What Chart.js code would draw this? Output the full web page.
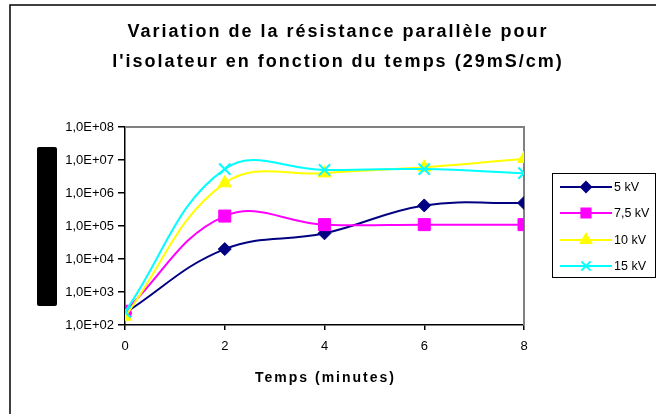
<!DOCTYPE html>
<html>
<head>
<meta charset="utf-8">
<script src="https://cdn.jsdelivr.net/npm/chart.js@4/dist/chart.umd.min.js"></script>
<style>
  html, body { margin: 0; padding: 0; background: #fff; }
  #wrap { width: 656px; height: 414px; }
</style>
</head>
<body>
<div id="wrap"><canvas id="chart" width="656" height="414"></canvas></div>
<script>
// times (minutes)
const times = [0, 2, 4, 6, 8];

// parallel resistance per test voltage
const r5kV = [230, 20000, 60000, 420000, 500000];
const r7_5kV = [260, 200000, 110000, 110000, 110000];
const r10kV = [180, 2000000, 4000000, 6000000, 11000000];
const r15kV = [250, 5300000, 5000000, 5300000, 4000000];

const seriesNames = ['5 kV', '7,5 kV', '10 kV', '15 kV'];
const yTickValues = [1e2, 1e3, 1e4, 1e5, 1e6, 1e7, 1e8];
const yTickLabels = ['1,0E+02', '1,0E+03', '1,0E+04', '1,0E+05', '1,0E+06', '1,0E+07', '1,0E+08'];
const xTickValues = [0, 2, 4, 6, 8];

const titleLines = ['Variation de la résistance parallèle pour', "l'isolateur en fonction du temps (29mS/cm)"];
const xTitle = 'Temps (minutes)';

const FONT = '"Liberation Sans", Arial, sans-serif';

const styles = [
  { color: '#000080', point: 'rectRot', radius: 6.5, legendRadius: 5 },
  { color: '#ff00ff', point: 'rect', radius: 8.5, legendRadius: 6.5 },
  { color: '#ffff00', point: 'triangle', radius: 7.5, legendRadius: 6 },
  { color: '#00ffff', point: 'crossRot', radius: 8, legendRadius: 6.5 }
];

const toPoints = vals => times.map((t, i) => ({ x: t, y: vals[i] }));
const allSeries = [r5kV, r7_5kV, r10kV, r15kV];

const datasets = allSeries.map((vals, i) => ({
  label: seriesNames[i],
  data: toPoints(vals),
  borderColor: styles[i].color,
  backgroundColor: styles[i].color,
  pointBackgroundColor: styles[i].color,
  pointBorderColor: styles[i].color,
  pointStyle: styles[i].point,
  pointRadius: styles[i].radius,
  pointBorderWidth: styles[i].point === 'crossRot' ? 2 : 1,
  borderWidth: 2,
  tension: 0.4,
  order: allSeries.length - i
}));

// frame, titles, left block, plot border and legend
const decor = {
  id: 'decor',
  beforeDatasetsDraw(chart) {
    const { ctx, chartArea: a } = chart;
    ctx.save();
    ctx.strokeStyle = '#808080';
    ctx.lineWidth = 2;
    ctx.beginPath();
    ctx.moveTo(a.left, a.top);
    ctx.lineTo(a.right, a.top);
    ctx.lineTo(a.right, a.bottom);
    ctx.stroke();
    ctx.restore();
  },
  afterDraw(chart) {
    const { ctx, chartArea: a } = chart;
    ctx.save();
    // outer frame
    ctx.strokeStyle = '#000';
    ctx.lineWidth = 1.5;
    ctx.strokeRect(10, 5, 700, 500);

    // title
    ctx.fillStyle = '#000';
    ctx.font = 'bold 18px ' + FONT;
    ctx.letterSpacing = '2px';
    ctx.textAlign = 'center';
    ctx.textBaseline = 'middle';
    ctx.fillText(titleLines[0], 338, 32);
    ctx.fillText(titleLines[1], 338, 62);

    // x axis title
    ctx.font = 'bold 14px ' + FONT;
    ctx.fillText(xTitle, (a.left + a.right) / 2 + 1, 378);
    ctx.letterSpacing = '0px';

    // black block on the left
    ctx.beginPath();
    ctx.roundRect(37, 147, 20, 159, 2);
    ctx.fill();

    // legend
    ctx.strokeStyle = '#000';
    ctx.lineWidth = 1;
    ctx.strokeRect(552.5, 173.5, 103, 104);
    const ys = [187, 213, 240, 266];
    ctx.font = '12.5px ' + FONT;
    ctx.textAlign = 'left';
    seriesNames.forEach((name, i) => {
      const s = styles[i];
      const y = ys[i];
      ctx.strokeStyle = s.color;
      ctx.fillStyle = s.color;
      ctx.lineWidth = 2;
      ctx.beginPath();
      ctx.moveTo(560, y);
      ctx.lineTo(612, y);
      ctx.stroke();
      Chart.helpers.drawPoint(ctx, {
        pointStyle: s.point, radius: s.legendRadius, rotation: 0,
        borderWidth: s.point === 'crossRot' ? 2 : 1
      }, 586, y);
      ctx.fillStyle = '#000';
      ctx.fillText(name, 614, y + 1);
    });
    ctx.restore();
  }
};

new Chart(document.getElementById('chart'), {
  type: 'line',
  data: { datasets },
  options: {
    responsive: false,
    animation: false,
    layout: { padding: { left: 60, right: 132, top: 127, bottom: 29 } },
    plugins: { legend: { display: false }, title: { display: false }, tooltip: { enabled: false } },
    scales: {
      x: {
        type: 'linear',
        min: 0,
        max: 8,
        afterBuildTicks: s => { s.ticks = xTickValues.map(v => ({ value: v })); },
        afterFit: s => { s.height = 60; },
        grid: { drawOnChartArea: false, tickLength: 5, color: '#000', lineWidth: 1.5 },
        border: { color: '#000', width: 1.5 },
        ticks: { color: '#000', padding: 9, font: { family: FONT, size: 13 }, maxRotation: 0 }
      },
      y: {
        type: 'logarithmic',
        min: 100,
        max: 1e8,
        afterBuildTicks: s => { s.ticks = yTickValues.map(v => ({ value: v })); },
        afterFit: s => { s.width = 65; },
        grid: { drawOnChartArea: false, tickLength: 7, color: '#000', lineWidth: 1.5 },
        border: { color: '#000', width: 1.5 },
        ticks: { color: '#000', padding: 4, font: { family: FONT, size: 13 },
          callback: (v, i) => yTickLabels[i] }
      }
    }
  },
  plugins: [decor]
});
</script>
</body>
</html>
